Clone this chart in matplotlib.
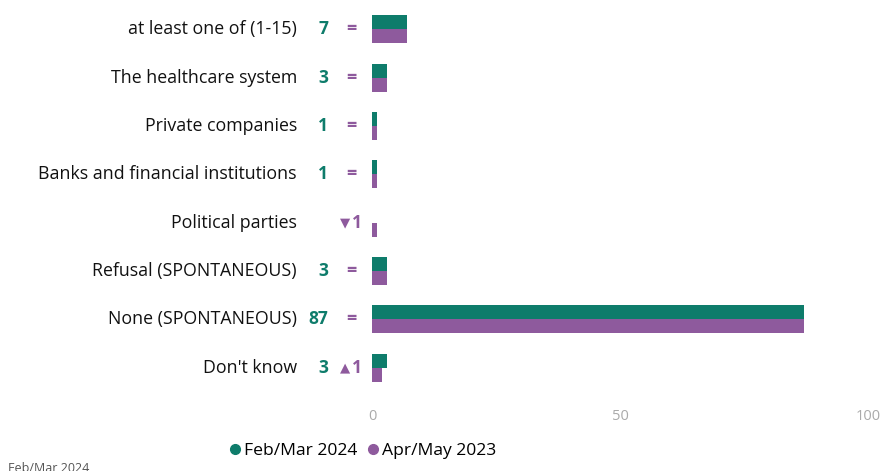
import matplotlib
matplotlib.use("Agg")
import matplotlib.pyplot as plt
from matplotlib.lines import Line2D

categories = [
    "at least one of (1-15)",
    "The healthcare system",
    "Private companies",
    "Banks and financial institutions",
    "Political parties",
    "Refusal (SPONTANEOUS)",
    "None (SPONTANEOUS)",
    "Don't know",
]
values_2024 = [7, 3, 1, 1, 0, 3, 87, 3]
values_2023 = [7, 3, 1, 1, 1, 3, 87, 2]
series_names = ["Feb/Mar 2024", "Apr/May 2023"]
x_ticks = [0, 50, 100]

GREEN = "#0E7C6B"
PURPLE = "#8E5A9D"
FONT = "Open Sans"

W, H, DPI = 886, 471, 100
fig = plt.figure(figsize=(W / DPI, H / DPI), dpi=DPI)

left_px, right_px = 372, 868
top_px, bottom_px = 5, 392
ax = fig.add_axes([left_px / W, 1 - bottom_px / H,
                   (right_px - left_px) / W, (bottom_px - top_px) / H])

bh = 0.29
ys = list(range(len(categories)))
ax.barh([y - bh / 2 for y in ys], values_2024, height=bh, color=GREEN)
ax.barh([y + bh / 2 for y in ys], values_2023, height=bh, color=PURPLE)

ax.set_xlim(0, 100)
ax.set_ylim(len(categories) - 0.5, -0.5)
ax.set_xticks(x_ticks)
ax.set_xticklabels([str(t) for t in x_ticks], fontfamily=FONT, fontsize=10.5,
                   color="#AAAAAA")
ax.tick_params(axis="x", length=0, pad=12)
ax.set_yticks([])
for s in ax.spines.values():
    s.set_visible(False)

px = 72 / DPI  # points per pixel


def put(text, y, dx_px, **kw):
    ax.annotate(text, xy=(0, y), xycoords="data",
                xytext=(dx_px * px, 0), textcoords="offset points",
                va="center", **kw)


for y, cat, v24, v23 in zip(ys, categories, values_2024, values_2023):
    put(cat, y, -75, ha="right", fontfamily=FONT, fontsize=12.8, color="#111111")
    if v24 > 0:
        put(str(v24), y, -44, ha="right", fontfamily=FONT, fontsize=12.5,
            fontweight="bold", color=GREEN)
    diff = v24 - v23
    if diff == 0:
        put("=", y, -21, ha="center", fontfamily=FONT, fontsize=13,
            fontweight="bold", color=PURPLE)
    else:
        tri = "▲" if diff > 0 else "▼"
        put(tri, y, -27, ha="center", fontfamily="DejaVu Sans", fontsize=9.5,
            color=PURPLE)
        put(str(abs(diff)), y, -15, ha="center", fontfamily=FONT, fontsize=12.5,
            fontweight="bold", color=PURPLE)

handles = [
    Line2D([], [], marker="o", linestyle="none", markersize=7,
           markerfacecolor=GREEN, markeredgecolor=GREEN),
    Line2D([], [], marker="o", linestyle="none", markersize=7,
           markerfacecolor=PURPLE, markeredgecolor=PURPLE),
]
fig.legend(handles, series_names, loc="center", bbox_to_anchor=(363 / W, 1 - 451 / H),
           ncol=2, frameon=False, handlelength=0.6, handletextpad=0.2,
           columnspacing=0.6, prop={"family": FONT, "size": 12.6})

fig.text(8 / W, 1 - 462 / H, "Feb/Mar 2024", ha="left", va="top",
         fontfamily=FONT, fontsize=9, color="#555555")

fig.savefig("out.png", dpi=DPI)
